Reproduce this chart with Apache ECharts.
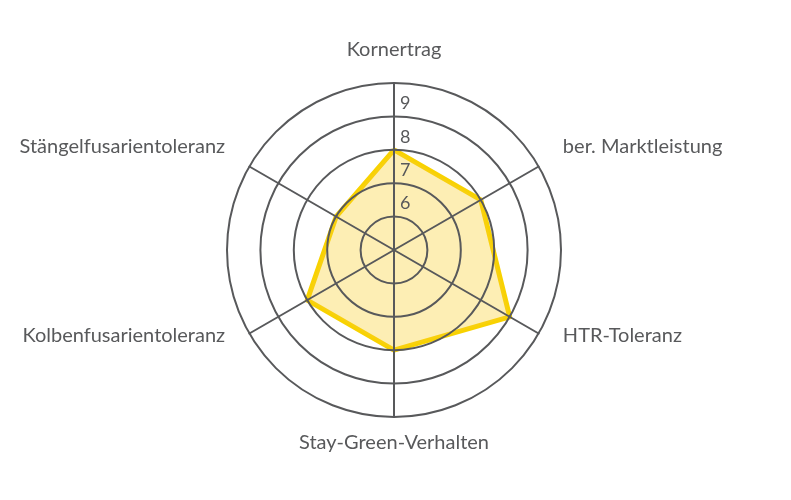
<!DOCTYPE html>
<html><head><meta charset="utf-8">
<script src="https://cdn.jsdelivr.net/npm/echarts@6/dist/echarts.min.js"></script>
<style>html,body{margin:0;padding:0;background:#fff}#c{width:791px;height:500px}</style>
</head><body><div id="c"></div>
<script>
// listed clockwise from the top
const indicators = ['Kornertrag', 'ber. Marktleistung', 'HTR-Toleranz', 'Stay-Green-Verhalten', 'Kolbenfusarientoleranz', 'Stängelfusarientoleranz'];
const values = [8, 8, 9, 8, 8, 7];
const scaleMin = 5;
const scaleMax = 10;
const scaleStep = 1;

// ECharts radar runs counter-clockwise: reorder so the chart reads clockwise
const order = indicators.map((_, i) => (indicators.length - i) % indicators.length);
const nameGaps = [23, 28, 28, 16, 28, 28];
const nameStyles = ['n', 'up', 'lo', 'n', 'lo', 'up'];

const chart = echarts.init(document.getElementById('c'), null, {renderer: 'canvas'});
const font = 'Lato';
const txt = {color: '#58595b', fontSize: 20, fontFamily: font};
const yellowLine = {color: '#f8d200', width: 5, type: 'solid'};
chart.setOption({
  animation: false,
  radar: {
    z: 5,
    center: [394, 250],
    radius: 167,
    startAngle: 90,
    shape: 'circle',
    splitNumber: 5,
    indicator: order.map((k, i) => ({
      name: indicators[k], min: scaleMin, max: scaleMax, interval: scaleStep,
      nameGap: nameGaps[k],
      axisLabel: i === 0 ? {show: true} : {show: false}
    })),
    axisName: Object.assign({}, txt, {
      formatter: (name) => '{' + nameStyles[indicators.indexOf(name)] + '|' + name + '}',
      rich: {
        n: Object.assign({}, txt),
        up: Object.assign({padding: [0, 0, 12, 0]}, txt),
        lo: Object.assign({padding: [0, 0, 24, 0]}, txt)
      }
    }),
    axisLine: {lineStyle: {color: '#58595b', width: 2}},
    splitLine: {lineStyle: {color: '#58595b', width: 2}},
    splitArea: {show: false},
    axisTick: {show: false},
    axisLabel: {
      show: false, color: '#58595b', fontSize: 18, fontFamily: font,
      showMinLabel: false, showMaxLabel: false,
      align: 'left', verticalAlign: 'bottom', margin: -6, padding: [0, 0, 4, 0]
    }
  },
  series: [{
    type: 'radar',
    z: 2,
    symbol: 'none',
    lineStyle: yellowLine,
    areaStyle: {color: 'rgb(250,205,40)', opacity: 0.35},
    itemStyle: {color: '#f8d200', borderColor: '#f8d200'},
    emphasis: {disabled: true},
    data: [{
      value: order.map(k => values[k])
    }]
  }]
});
</script></body></html>
